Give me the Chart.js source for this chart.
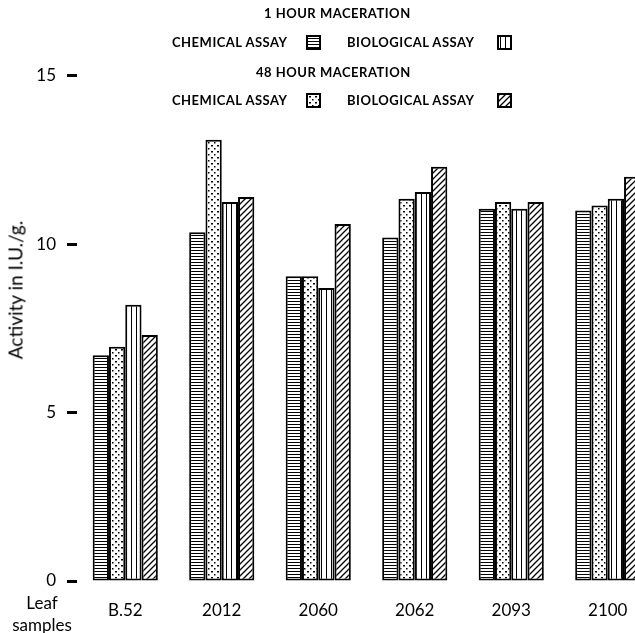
<!DOCTYPE html>
<html>
<head>
<meta charset="utf-8">
<script src="https://cdn.jsdelivr.net/npm/chart.js@4.4.1/dist/chart.umd.min.js"></script>
<style>
  html, body { margin: 0; padding: 0; background: #fff; overflow: hidden; }
  #wrap { position: relative; width: 635px; height: 633px; overflow: hidden; }
  #myChart { position: absolute; left: 0; top: 0; }
  .lg { position: absolute; font-family: Lato, sans-serif; font-weight: bold; font-size: 13px;
        letter-spacing: 0.5px; color: #000; white-space: nowrap; line-height: 14px; }
  .sw { position: absolute; width: 11px; height: 11px; border: 2px solid #000; }
  #ytitle { position: absolute; left: 15px; top: 290px; transform: translate(-50%, -50%) rotate(-90deg);
            font-family: Lato, sans-serif; font-size: 19px; color: #000; white-space: nowrap; }
  #leaf { position: absolute; left: 0; width: 84px; top: 592px; text-align: center;
          font-family: Lato, sans-serif; font-size: 17px; line-height: 22px; color: #000; }
</style>
</head>
<body>
<div id="wrap">
  <canvas id="myChart" width="660" height="633"></canvas>
  <div class="lg" style="left:264px; top:6px;">1 HOUR MACERATION</div>
  <div class="lg" style="left:172px; top:35px;">CHEMICAL ASSAY</div>
  <div class="sw" id="sw0" style="left:306px; top:35px;"></div>
  <div class="lg" style="left:347px; top:35px;">BIOLOGICAL ASSAY</div>
  <div class="sw" id="sw2" style="left:497px; top:35px;"></div>
  <div class="lg" style="left:256px; top:65px;">48 HOUR MACERATION</div>
  <div class="lg" style="left:172px; top:93px;">CHEMICAL ASSAY</div>
  <div class="sw" id="sw1" style="left:306px; top:93px;"></div>
  <div class="lg" style="left:347px; top:93px;">BIOLOGICAL ASSAY</div>
  <div class="sw" id="sw3" style="left:497px; top:93px;"></div>
  <div id="ytitle">Activity in I.U./g.</div>
  <div id="leaf">Leaf<br>samples</div>
</div>
<script>
// Leaf samples and activity values (I.U./g.)
const sampleLabels = ['B.52', '2012', '2060', '2062', '2093', '2100'];
const chemical1h = [6.7, 10.35, 9.05, 10.2, 11.05, 11.0];
const chemical48h = [6.95, 13.1, 9.05, 11.35, 11.25, 11.15];
const biological1h = [8.2, 11.25, 8.7, 11.55, 11.05, 11.35];
const biological48h = [7.3, 11.4, 10.6, 12.3, 11.25, 12.0];
const yTicks = [0, 5, 10, 15];

// small tiles used as bar fills
const makeTile = (type) => {
  const c = document.createElement('canvas');
  const size = { lines: 3, vlines: 5, dots: 6, hatch: 6 }[type];
  c.width = size;
  c.height = size;
  const g = c.getContext('2d');
  g.fillStyle = '#fff';
  g.fillRect(0, 0, size, size);
  g.fillStyle = '#000';
  g.strokeStyle = '#000';
  if (type === 'lines') {
    g.fillRect(0, 1, size, 1);
  } else if (type === 'vlines') {
    g.fillRect(1, 0, 1, size);
  } else if (type === 'dots') {
    g.fillRect(1, 1, 2, 1.5);
    g.fillRect(4, 4, 1.5, 1.5);
  } else {
    g.lineWidth = 1.3;
    g.beginPath();
    g.moveTo(0, size); g.lineTo(size, 0);
    g.moveTo(-1, 1); g.lineTo(1, -1);
    g.moveTo(size - 1, size + 1); g.lineTo(size + 1, size - 1);
    g.stroke();
  }
  return c;
};

const tiles = [makeTile('lines'), makeTile('dots'), makeTile('vlines'), makeTile('hatch')];
const ctx = document.getElementById('myChart').getContext('2d');
const fills = tiles.map(t => ctx.createPattern(t, 'repeat'));

tiles.forEach((t, i) => {
  document.getElementById('sw' + i).style.backgroundImage = 'url(' + t.toDataURL() + ')';
});

const makeSet = (label, data, i) => ({
  label: label,
  data: data,
  backgroundColor: fills[i],
  borderColor: '#000',
  borderWidth: 2,
  borderSkipped: false,
  barPercentage: 1,
  categoryPercentage: 0.675
});

new Chart(ctx, {
  type: 'bar',
  data: {
    labels: sampleLabels,
    datasets: [
      makeSet('1 hour chemical assay', chemical1h, 0),
      makeSet('48 hour chemical assay', chemical48h, 1),
      makeSet('1 hour biological assay', biological1h, 2),
      makeSet('48 hour biological assay', biological48h, 3)
    ]
  },
  options: {
    responsive: false,
    animation: false,
    layout: { padding: { left: 0, right: 4, top: 42, bottom: 0 } },
    plugins: { legend: { display: false }, tooltip: { enabled: false } },
    scales: {
      x: {
        afterFit: (scale) => { scale.height = 52; },
        grid: { display: false, drawTicks: false },
        border: { display: false },
        ticks: { color: '#000', font: { family: 'Lato', size: 17 }, padding: 19 }
      },
      y: {
        min: 0,
        max: 16,
        afterBuildTicks: (scale) => {
          scale.ticks = yTicks.map(v => ({ value: v }));
        },
        afterFit: (scale) => { scale.width = 77; },
        grid: { drawOnChartArea: false, tickLength: 10, tickWidth: 3, tickColor: '#000' },
        border: { display: false },
        ticks: { color: '#000', font: { family: 'Lato', size: 17 }, padding: 11 }
      }
    }
  }
});
</script>
</body>
</html>
